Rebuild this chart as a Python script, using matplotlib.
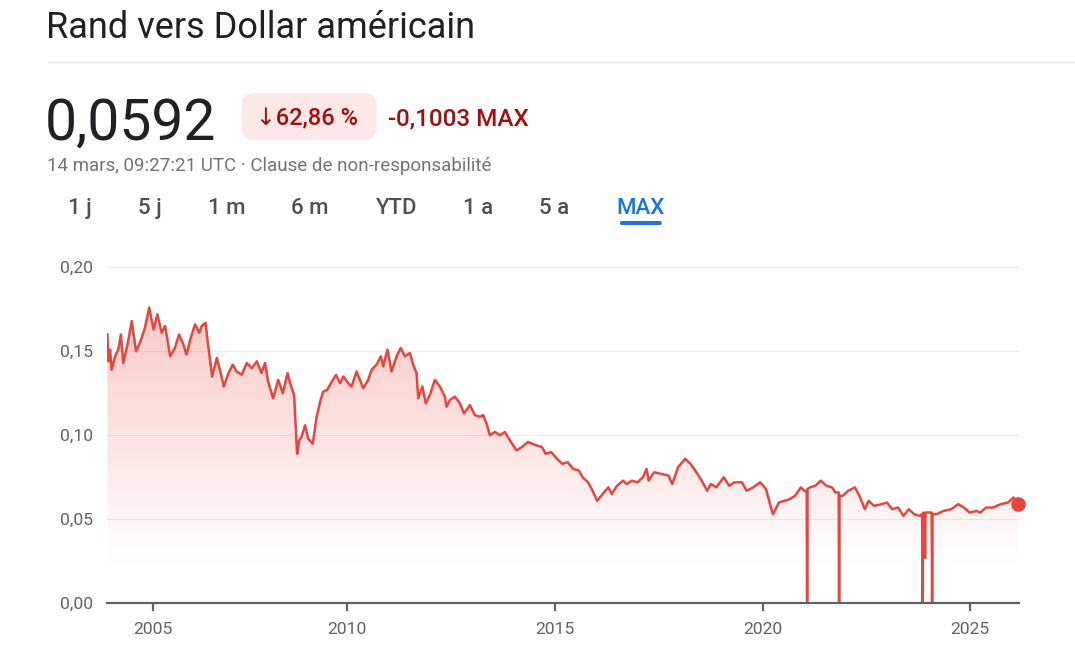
import numpy as np
import matplotlib.pyplot as plt
from matplotlib.patches import FancyBboxPatch
from matplotlib.ticker import FuncFormatter, FixedLocator

plt.rcParams['font.family'] = ['Roboto', 'DejaVu Sans']

# ZAR -> USD, decimal year / rate
years = [2003.83, 2003.86, 2003.90, 2003.94, 2004.03, 2004.11, 2004.18, 2004.24, 2004.35, 2004.46,
         2004.57, 2004.67, 2004.80, 2004.91, 2005.02, 2005.12, 2005.23, 2005.32, 2005.45, 2005.57,
         2005.68, 2005.79, 2005.87, 2005.98, 2006.09, 2006.20, 2006.26, 2006.36, 2006.43, 2006.53,
         2006.65, 2006.73, 2006.83, 2006.95, 2007.06, 2007.16, 2007.29, 2007.42, 2007.55, 2007.68,
         2007.80, 2007.89, 2007.97, 2008.10, 2008.23, 2008.35, 2008.47, 2008.55, 2008.64, 2008.71,
         2008.72, 2008.77, 2008.83, 2008.92, 2009.00, 2009.12, 2009.18, 2009.22, 2009.32, 2009.39,
         2009.49, 2009.61, 2009.72, 2009.82, 2009.91, 2010.03, 2010.11, 2010.23, 2010.39, 2010.51,
         2010.59, 2010.71, 2010.81, 2010.87, 2010.97, 2011.07, 2011.19, 2011.29, 2011.39, 2011.51,
         2011.59, 2011.67, 2011.71, 2011.81, 2011.89, 2011.99, 2012.11, 2012.23, 2012.35, 2012.39,
         2012.47, 2012.59, 2012.71, 2012.81, 2012.95, 2013.07, 2013.19, 2013.27, 2013.35, 2013.43,
         2013.55, 2013.67, 2013.79, 2013.91, 2014.07, 2014.20, 2014.34, 2014.55, 2014.68, 2014.77,
         2014.90, 2015.04, 2015.17, 2015.30, 2015.43, 2015.57, 2015.66, 2015.79, 2015.88, 2016.01,
         2016.14, 2016.28, 2016.36, 2016.49, 2016.63, 2016.72, 2016.85, 2016.98, 2017.11, 2017.20,
         2017.25, 2017.38, 2017.56, 2017.73, 2017.82, 2017.96, 2018.13, 2018.26, 2018.40, 2018.53,
         2018.66, 2018.75, 2018.88, 2019.06, 2019.19, 2019.32, 2019.50, 2019.61, 2019.77, 2019.94,
         2020.08, 2020.21, 2020.25, 2020.39, 2020.52, 2020.65, 2020.78, 2020.92, 2021.00, 2021.06,
         2021.07, 2021.08, 2021.14, 2021.27, 2021.40, 2021.53, 2021.67, 2021.75, 2021.83, 2021.84,
         2021.85, 2021.93, 2022.06, 2022.22, 2022.33, 2022.46, 2022.55, 2022.68, 2022.86, 2022.99,
         2023.12, 2023.26, 2023.39, 2023.52, 2023.65, 2023.79, 2023.84, 2023.85, 2023.86, 2023.90,
         2023.91, 2023.92, 2024.07, 2024.08, 2024.09, 2024.18, 2024.36, 2024.54, 2024.71, 2024.85,
         2024.98, 2025.15, 2025.24, 2025.38, 2025.55, 2025.73, 2025.91, 2026.04, 2026.16]
rates = [0.160, 0.144, 0.151, 0.139, 0.147, 0.151, 0.160, 0.143, 0.154, 0.168,
         0.150, 0.155, 0.164, 0.176, 0.163, 0.172, 0.161, 0.165, 0.147, 0.152,
         0.160, 0.154, 0.148, 0.158, 0.166, 0.161, 0.165, 0.167, 0.153, 0.135,
         0.146, 0.139, 0.129, 0.137, 0.142, 0.138, 0.136, 0.143, 0.140, 0.144,
         0.137, 0.143, 0.132, 0.122, 0.133, 0.125, 0.137, 0.130, 0.124, 0.091,
         0.089, 0.097, 0.099, 0.106, 0.098, 0.095, 0.105, 0.111, 0.121, 0.126,
         0.127, 0.132, 0.136, 0.131, 0.135, 0.131, 0.129, 0.138, 0.128, 0.133,
         0.139, 0.142, 0.147, 0.141, 0.151, 0.138, 0.147, 0.152, 0.147, 0.149,
         0.142, 0.137, 0.122, 0.129, 0.119, 0.124, 0.133, 0.129, 0.123, 0.117,
         0.121, 0.123, 0.119, 0.113, 0.118, 0.112, 0.111, 0.112, 0.107, 0.100,
         0.102, 0.100, 0.102, 0.097, 0.091, 0.093, 0.096, 0.094, 0.093, 0.089,
         0.090, 0.086, 0.083, 0.084, 0.080, 0.079, 0.075, 0.072, 0.068, 0.061,
         0.065, 0.069, 0.065, 0.070, 0.073, 0.071, 0.073, 0.072, 0.075, 0.080,
         0.073, 0.078, 0.077, 0.076, 0.071, 0.081, 0.086, 0.083, 0.078, 0.073,
         0.067, 0.071, 0.069, 0.075, 0.070, 0.072, 0.072, 0.067, 0.069, 0.072,
         0.068, 0.056, 0.053, 0.060, 0.061, 0.062, 0.064, 0.069, 0.067, 0.067,
         0.000, 0.068, 0.069, 0.070, 0.073, 0.070, 0.069, 0.066, 0.066, 0.000,
         0.064, 0.064, 0.067, 0.069, 0.064, 0.056, 0.061, 0.058, 0.059, 0.060,
         0.056, 0.057, 0.052, 0.056, 0.053, 0.052, 0.053, 0.000, 0.054, 0.053,
         0.027, 0.054, 0.054, 0.000, 0.053, 0.053, 0.055, 0.056, 0.059, 0.057,
         0.054, 0.055, 0.054, 0.057, 0.057, 0.059, 0.060, 0.063, 0.0592]

year_ticks = [2005, 2010, 2015, 2020, 2025]
rate_ticks = [0.0, 0.05, 0.10, 0.15, 0.20]
title = 'Rand vers Dollar américain'
last_price = '0,0592'
change_pct = '\u219362,86 %'
change_abs = '-0,1003 MAX'
stamp = '14 mars, 09:27:21 UTC · Clause de non-responsabilité'
tabs = ['1 j', '5 j', '1 m', '6 m', 'YTD', '1 a', '5 a', 'MAX']

RED = '#e8453c'
DARK_RED = '#a50e0e'
GREY = '#5f6368'

W, H = 1075, 657
fig = plt.figure(figsize=(W / 100, H / 100), dpi=100)


def fx(px):
    return px / W


def fy(py):
    return 1 - py / H


# header
fig.text(fx(46), fy(38.5), title, fontsize=26, color='#202124', va='baseline')
fig.add_artist(plt.Line2D([fx(48), 1], [fy(62), fy(62)], color='#e3e3e3', lw=0.9))
fig.text(fx(45), fy(140), last_price, fontsize=41, color='#202124', va='baseline')
badge = FancyBboxPatch((fx(241.7), fy(140)), fx(376.7) - fx(241.7), fy(93) - fy(140),
                       boxstyle='round,pad=0,rounding_size=0.012', transform=fig.transFigure,
                       fc='#fce8e6', ec='none', mutation_aspect=W / H)
fig.add_artist(badge)
fig.text(fx(256), fy(125), change_pct, fontsize=17, color=DARK_RED, va='baseline',
         fontweight='medium', family=['Roboto', 'DejaVu Sans'])
fig.text(fx(388), fy(125), change_abs, fontsize=17.5, color=DARK_RED, va='baseline',
         fontweight='medium')
fig.text(fx(47), fy(171), stamp, fontsize=13.5, color='#70757a', va='baseline')

tab_x = [80, 150, 227, 310, 397, 478, 554, 641]
for t, x in zip(tabs, tab_x):
    c = '#1a73e8' if t == 'MAX' else '#4d5156'
    fig.text(fx(x), fy(214), t, fontsize=16, color=c, ha='center', va='baseline',
             fontweight='medium')
under = FancyBboxPatch((fx(620), fy(225)), fx(661.7) - fx(620), fy(221) - fy(225),
                       boxstyle='round,pad=0,rounding_size=0.002', transform=fig.transFigure,
                       fc='#1a73e8', ec='none')
fig.add_artist(under)

# chart
ax = fig.add_axes([fx(107), fy(603.3), (1019.3 - 107) / W, (603.3 - 267.3) / H])

# google's axis is not quite linear in time
knot_years = [2003.82, 2005, 2010, 2015, 2020, 2025, 2026.18]
knot_pos = [0, 45.7, 240, 448.3, 655.7, 863.3, 912.3]
ax.set_xscale('function', functions=(lambda v: np.interp(v, knot_years, knot_pos),
                                     lambda p: np.interp(p, knot_pos, knot_years)))
ax.set_xlim(knot_years[0], knot_years[-1])
ax.set_ylim(0, 0.2)

poly = ax.fill_between(years, rates, 0, color='none', lw=0)
grad = np.zeros((256, 1, 4))
yy = np.linspace(0, 0.2, 256)
grad[:, 0, :3] = [0.918, 0.263, 0.208]
grad[:, 0, 3] = np.clip((yy - 0.02) / 0.18 * 0.33, 0, 1)
im = ax.imshow(grad, extent=[knot_years[0], knot_years[-1], 0, 0.2], origin='lower',
               aspect='auto', zorder=1, interpolation='bilinear')
im.set_clip_path(poly.get_paths()[0], transform=ax.transData)

ax.plot(years, rates, color=RED, lw=1.8, zorder=3, solid_joinstyle='round')
ax.plot(years[-1], rates[-1], 'o', color=RED, ms=9.5, zorder=4, clip_on=False)

ax.set_xlim(knot_years[0], knot_years[-1])
ax.set_ylim(0, 0.2)
ax.xaxis.set_major_locator(FixedLocator(year_ticks))
ax.yaxis.set_major_locator(FixedLocator(rate_ticks))
ax.xaxis.set_major_formatter(FuncFormatter(lambda v, p: '%d' % round(v)))
ax.yaxis.set_major_formatter(FuncFormatter(lambda v, p: ('%.2f' % v).replace('.', ',')))
ax.xaxis.set_minor_locator(FixedLocator([]))

for s in ['top', 'right', 'left']:
    ax.spines[s].set_visible(False)
ax.spines['bottom'].set_color(GREY)
ax.spines['bottom'].set_linewidth(1.6)
ax.spines['bottom'].set_zorder(5)
ax.tick_params(axis='x', length=5.5, width=1.6, color=GREY, labelcolor=GREY, labelsize=12.6, pad=8)
ax.tick_params(axis='y', length=0, labelcolor=GREY, labelsize=12.6, pad=10)
ax.grid(axis='y', color='#eeeeee', lw=0.8, zorder=0)
ax.set_axisbelow(True)

fig.savefig('out.png', dpi=100)
